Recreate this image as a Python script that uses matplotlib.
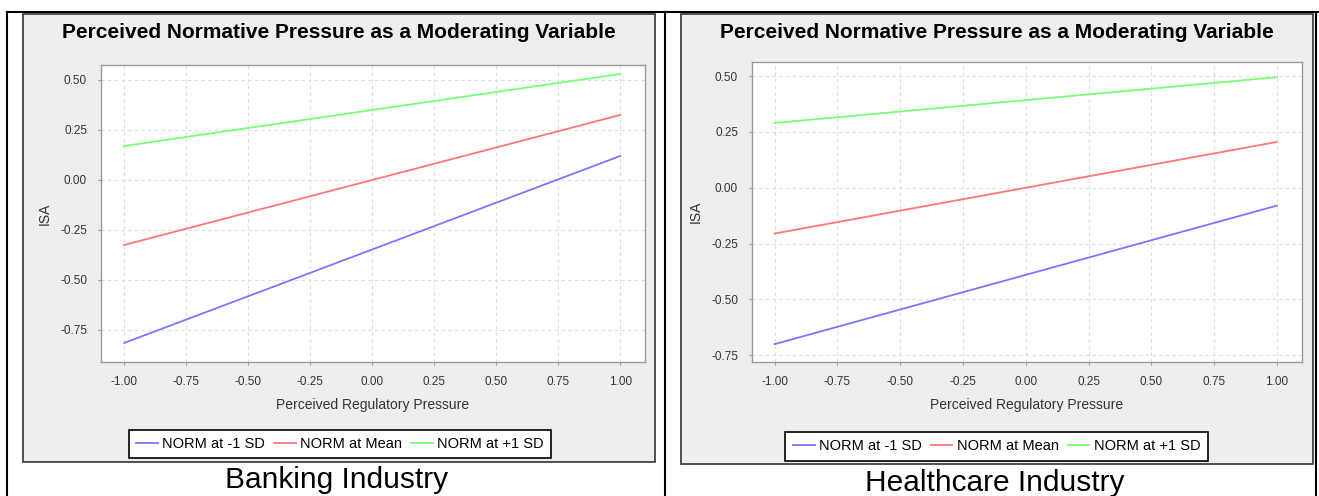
import matplotlib
matplotlib.use("Agg")
import matplotlib.pyplot as plt
from matplotlib.patches import Rectangle
from matplotlib.lines import Line2D
from matplotlib.ticker import FixedLocator, FuncFormatter

plt.rcParams['axes.unicode_minus'] = False
plt.rcParams['font.family'] = ['Liberation Sans', 'DejaVu Sans']

# ---- data ----
x_vals = [-1.0, 1.0]
series_labels = ["NORM at -1 SD", "NORM at Mean", "NORM at +1 SD"]
series_colors = ["#7777ff", "#ff7777", "#77ff77"]

bank_low = [-0.815, 0.12]
bank_mean = [-0.325, 0.325]
bank_high = [0.17, 0.53]

health_low = [-0.70, -0.08]
health_mean = [-0.205, 0.205]
health_high = [0.29, 0.495]

x_ticks = [-1.00, -0.75, -0.50, -0.25, 0.00, 0.25, 0.50, 0.75, 1.00]
y_ticks = [-0.75, -0.50, -0.25, 0.00, 0.25, 0.50]

title = "Perceived Normative Pressure as a Moderating Variable"
xlabel = "Perceived Regulatory Pressure"
ylabel = "ISA"
captions = ["Banking Industry", "Healthcare Industry"]

W, H = 1319, 496
fig = plt.figure(figsize=(W / 100, H / 100), dpi=100)


def fx(px):
    return px / W


def fy(py):
    return 1 - py / H


def rect(x0, y0, x1, y1):
    return [fx(x0), fy(y1), fx(x1) - fx(x0), fy(y0) - fy(y1)]


# table lines
for (xa, ya, xb, yb) in [(7, 12, 1319, 12), (7, 12, 7, 496), (665, 12, 665, 496), (1316, 12, 1316, 496)]:
    fig.add_artist(Line2D([fx(xa), fx(xb)], [fy(ya), fy(yb)], color="black", lw=1.5, zorder=-5))

panels = [
    dict(panel=(23, 14, 655, 462), plot=(101, 65, 645, 362), ylim=(-0.91, 0.575), xlim=(-1.093, 1.10),
         data=[bank_low, bank_mean, bank_high], legend=(135, 428, 545, 460), caption_y=480, cap_x=337, title_y=32),
    dict(panel=(681, 14, 1313, 464), plot=(752, 62, 1302, 362), ylim=(-0.78, 0.563), xlim=(-1.09, 1.10),
         data=[health_low, health_mean, health_high], legend=(793, 430, 1200, 463), caption_y=483, cap_x=995, title_y=32),
]

for i, p in enumerate(panels):
    x0, y0, x1, y1 = p["panel"]
    fig.add_artist(Rectangle((fx(x0), fy(y1)), fx(x1) - fx(x0), fy(y0) - fy(y1),
                             transform=fig.transFigure, facecolor="#eeeeee", edgecolor="#333333", lw=1.2,
                             zorder=-10))
    px0, py0, px1, py1 = p["plot"]
    ax = fig.add_axes(rect(px0, py0, px1, py1))
    ax.set_facecolor("white")
    for s in ax.spines.values():
        s.set_color("#999999")
        s.set_linewidth(1.0)
    for vals, lab, col in zip(p["data"], series_labels, series_colors):
        ax.plot(x_vals, vals, color=col, lw=1.3, label=lab)
    ax.set_xlim(*p["xlim"])
    ax.set_ylim(*p["ylim"])
    ax.xaxis.set_major_locator(FixedLocator(x_ticks))
    ax.yaxis.set_major_locator(FixedLocator(y_ticks))
    fmt = FuncFormatter(lambda v, pos: "%.2f" % v)
    ax.xaxis.set_major_formatter(fmt)
    ax.yaxis.set_major_formatter(fmt)
    ax.tick_params(axis="both", labelsize=8.5, length=2, color="#999999", labelcolor="#333333", pad=8)
    ax.grid(True, color="#dddddd", linestyle=(0, (3, 3)), lw=0.8)
    ax.set_axisbelow(True)
    ax.set_xlabel(xlabel, fontsize=10, color="#333333", labelpad=7)
    ax.set_ylabel(ylabel, fontsize=10, color="#333333", labelpad=6)
    cx = (x0 + x1) / 2
    fig.text(fx(cx), fy(p["title_y"]), title, ha="center", va="center", fontsize=15, fontweight="bold")
    lx0, ly0, lx1, ly1 = p["legend"]
    handles = [Line2D([0], [0], color=c, lw=1.3) for c in series_colors]
    leg = fig.legend(handles, series_labels, loc="center", ncol=3,
                     bbox_to_anchor=(fx((lx0 + lx1) / 2), fy((ly0 + ly1) / 2)),
                     bbox_transform=fig.transFigure, fontsize=10.5, frameon=True, fancybox=False,
                     edgecolor="black", framealpha=1, handlelength=1.5, handletextpad=0.3,
                     columnspacing=0.6, borderpad=0.5)
    leg.get_frame().set_linewidth(1.2)
    fig.text(fx(p["cap_x"]), fy(p["caption_y"]), captions[i], ha="center", va="center", fontsize=21.5)

fig.savefig("out.png", dpi=100)
